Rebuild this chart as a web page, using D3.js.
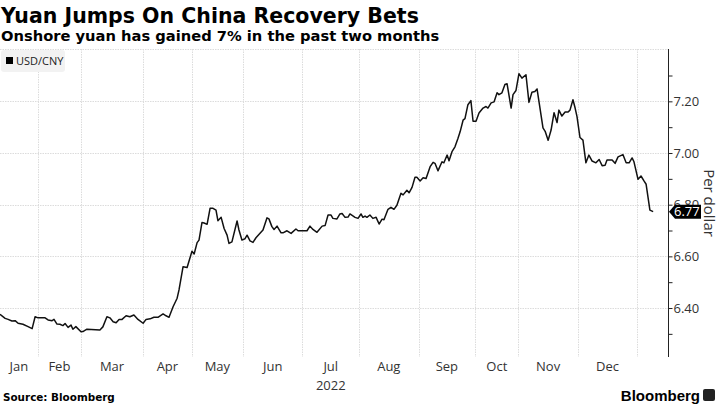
<!DOCTYPE html>
<html><head><meta charset="utf-8">
<script src="https://cdn.jsdelivr.net/npm/d3@7"></script>
<style>
html,body{margin:0;padding:0;background:#fff;}
svg{display:block;}
</style></head>
<body>
<svg id="chart" width="720" height="405"></svg>
<script>
// Trading-day index (x) and USD/CNY close (y)
const tradingDay = [0,1.9,3,4.4,5.6,6.7,8.5,10.4,11.9,13,14.1,16.7,17.8,19.3,20,21.1,22.2,23.3,24.1,25.2,26.3,27,28.1,30,30.7,32.2,37,38.1,39.6,40.7,41.9,43,44.1,45.2,46.7,48.1,49.6,51.1,53,54.1,55.6,57,58.5,60.4,61.5,62.6,64.1,65.6,66.3,67.8,69.3,71.1,71.9,73,73.7,74.8,75.6,76.7,77.8,78.9,80,80.7,81.9,83,84.1,84.8,85.9,87.8,88.5,89.6,90.7,91.5,92.6,93.7,94.8,96.3,97.4,98.9,99.6,100.7,101.5,102.6,104.1,104.8,106.3,107.8,109.6,110.4,113.7,114.8,115.9,117.4,119.3,120.4,121.5,122.6,123.3,124.8,125.9,126.7,127.8,128.9,129.6,131.5,132.6,133.7,134.4,135.2,135.9,137,138.1,139.3,140.4,141.5,142.2,143.7,144.8,145.9,147,148.5,149.3,150.7,151.5,152.6,153.7,154.4,155.6,156.7,157.8,159.3,160.4,161.1,162.2,163.7,164.4,165.6,166.3,167.4,168.5,169.6,170.4,171.5,172.2,173.3,174.4,175.2,176.3,177.4,178.9,180,180.7,181.9,183,184.1,184.8,185.9,187,187.8,189.3,190,191.1,192.2,193.3,194.8,195.9,197,198.1,198.9,201.1,201.9,203,204.1,205.2,206.3,207,208.1,209.3,210.4,211.1,212.2,213,213.7,214.8,215.9,217,218.1,219.3,220.7,221.9,223,224.1,224.8,226.7,227.8,228.9,230.7,231.9,233,234.1,234.8,236.3,237.4,238.5,239.3,240.7,241.9];
const usdCny = [6.376,6.360,6.356,6.350,6.351,6.341,6.337,6.328,6.320,6.366,6.362,6.362,6.354,6.351,6.356,6.338,6.337,6.332,6.340,6.325,6.334,6.318,6.328,6.308,6.309,6.318,6.315,6.327,6.366,6.362,6.347,6.343,6.356,6.356,6.370,6.366,6.373,6.356,6.341,6.356,6.358,6.364,6.364,6.377,6.370,6.364,6.405,6.438,6.470,6.560,6.557,6.620,6.609,6.653,6.663,6.731,6.729,6.724,6.786,6.786,6.779,6.738,6.751,6.708,6.682,6.650,6.656,6.737,6.702,6.663,6.668,6.682,6.660,6.654,6.672,6.689,6.702,6.749,6.745,6.715,6.704,6.717,6.691,6.691,6.699,6.689,6.706,6.699,6.699,6.717,6.704,6.693,6.717,6.719,6.760,6.760,6.747,6.745,6.764,6.766,6.751,6.752,6.764,6.751,6.747,6.764,6.751,6.756,6.751,6.760,6.747,6.751,6.725,6.744,6.742,6.782,6.790,6.782,6.798,6.844,6.838,6.856,6.846,6.867,6.906,6.906,6.892,6.904,6.901,6.947,6.964,6.960,6.931,6.966,6.962,6.992,6.970,7.005,7.024,7.056,7.082,7.127,7.133,7.187,7.203,7.123,7.123,7.155,7.174,7.180,7.174,7.194,7.198,7.233,7.226,7.233,7.265,7.268,7.174,7.226,7.242,7.307,7.290,7.303,7.196,7.235,7.238,7.248,7.097,7.084,7.049,7.089,7.156,7.118,7.166,7.143,7.159,7.159,7.166,7.206,7.174,7.141,7.060,7.050,6.962,6.992,6.969,6.962,6.975,6.951,6.953,6.973,6.973,6.960,6.985,6.994,6.962,6.962,6.981,6.966,6.898,6.911,6.892,6.879,6.779,6.773];
const monthStarts = [0,14,30,53,71,90,112,133,155,176,192,214,236];
const monthLabels = ["Jan","Feb","Mar","Apr","May","Jun","Jul","Aug","Sep","Oct","Nov","Dec"];
const yMajorTicks = [6.40,6.60,6.80,7.00,7.20];
const yMinorTicks = [6.30,6.50,6.70,6.90,7.10,7.30];
const lastValueLabel = "6.77";

const svg = d3.select("#chart");
const plotLeft = 0, plotRight = 668, plotTop = 49, plotBottom = 357;

const x = d3.scaleLinear().domain([0, 247.4]).range([plotLeft, plotRight]);
const y = d3.scaleLinear().domain([6.2104, 7.4026]).range([plotBottom, plotTop]);

const gridColor = "#dcdcdc";
// horizontal grid
svg.append("g").selectAll("line").data([7.4026].concat(yMajorTicks)).join("line")
  .attr("x1", plotLeft).attr("x2", plotRight)
  .attr("y1", d => Math.round(y(d)) + 0.5).attr("y2", d => Math.round(y(d)) + 0.5)
  .attr("stroke", gridColor).attr("stroke-width", 1).attr("stroke-dasharray", "1.5,1");
// vertical grid
svg.append("g").selectAll("line").data(monthStarts.slice(1)).join("line")
  .attr("x1", d => Math.round(x(d)) + 0.5).attr("x2", d => Math.round(x(d)) + 0.5)
  .attr("y1", plotTop).attr("y2", plotBottom)
  .attr("stroke", gridColor).attr("stroke-width", 1).attr("stroke-dasharray", "1.5,1");

// month labels (centered between boundaries)
const labelFont = "'Open Sans', 'DejaVu Sans', sans-serif";
svg.append("g").selectAll("text").data(monthLabels).join("text")
  .attr("x", (d,i) => (x(monthStarts[i]) + x(monthStarts[i+1])) / 2)
  .attr("y", 371)
  .attr("text-anchor", "middle")
  .attr("font-family", labelFont).attr("font-size", 13).attr("fill", "#333")
  .text(d => d);
svg.append("text").attr("x", (x(monthStarts[6]) + x(monthStarts[7])) / 2).attr("y", 390)
  .attr("text-anchor", "middle").attr("font-family", labelFont).attr("font-size", 13).attr("fill", "#333")
  .text("2022");

// right axis
const yAxis = d3.axisRight(y).tickValues(yMajorTicks).tickFormat(d3.format(".2f")).tickSize(4).tickPadding(1);
const gAxis = svg.append("g").attr("transform", `translate(${plotRight + 0.5},0)`).call(yAxis);
gAxis.select(".domain").attr("d", `M0,${plotTop}V${plotBottom}`).attr("stroke", "#222");
gAxis.selectAll(".tick line").attr("stroke", "#222");
gAxis.selectAll(".tick text").attr("font-family", labelFont).attr("font-size", 13).attr("fill", "#333");
const yMinor = d3.axisRight(y).tickValues(yMinorTicks).tickFormat("").tickSize(4);
const gMinor = svg.append("g").attr("transform", `translate(${plotRight + 0.5},0)`).call(yMinor);
gMinor.select(".domain").remove();
gMinor.selectAll(".tick line").attr("stroke", "#222");

// line
const data = tradingDay.map((d,i) => ({d, v: usdCny[i]}));
svg.append("path").datum(data)
  .attr("fill", "none").attr("stroke", "#111").attr("stroke-width", 1.5).attr("stroke-linejoin", "round")
  .attr("d", d3.line().x(p => x(p.d)).y(p => y(p.v)));

// last value pointer
const lastY = y(usdCny[usdCny.length - 1]);
const px0 = plotRight + 1;
svg.append("path")
  .attr("d", `M${px0},${lastY} L${px0+6},${lastY-7} L${px0+32},${lastY-7} L${px0+32},${lastY+7} L${px0+6},${lastY+7} Z`)
  .attr("fill", "#000");
svg.append("text").attr("x", px0 + 5).attr("y", lastY + 4.5)
  .attr("font-family", labelFont).attr("font-size", 13).attr("fill", "#fff").text(lastValueLabel);

// Per dollar
svg.append("text").attr("transform", `translate(704,${(plotTop+plotBottom)/2}) rotate(90)`)
  .attr("text-anchor", "middle").attr("font-family", labelFont).attr("font-size", 15).attr("fill", "#333")
  .text("Per dollar");

// legend
svg.append("rect").attr("x", 1).attr("y", 50).attr("width", 64).attr("height", 22).attr("rx", 3)
  .attr("fill", "#f2f2f2");
svg.append("rect").attr("x", 6).attr("y", 57).attr("width", 7).attr("height", 7).attr("fill", "#000");
svg.append("text").attr("x", 16).attr("y", 65).attr("font-family", labelFont).attr("font-size", 11)
  .attr("fill", "#222").text("USD/CNY");

// titles
svg.append("text").attr("x", 1).attr("y", 23).attr("font-family", "'DejaVu Sans', Verdana, sans-serif").attr("font-weight", "bold")
  .attr("font-size", 20.5).attr("fill", "#000").text("Yuan Jumps On China Recovery Bets");
svg.append("text").attr("x", 1).attr("y", 41).attr("font-family", "'DejaVu Sans', Verdana, sans-serif").attr("font-weight", "bold")
  .attr("font-size", 14.7).attr("fill", "#000").text("Onshore yuan has gained 7% in the past two months");

// footer
svg.append("text").attr("x", 3).attr("y", 401).attr("font-family", "'DejaVu Sans', Verdana, sans-serif").attr("font-weight", "bold")
  .attr("font-size", 10.4).attr("fill", "#000").text("Source: Bloomberg");
svg.append("text").attr("x", 700).attr("y", 401).attr("text-anchor", "end").attr("font-family", "'Liberation Sans', Arial, sans-serif")
  .attr("font-weight", "bold").attr("font-size", 15).attr("fill", "#000").text("Bloomberg");
svg.append("rect").attr("x", 703).attr("y", 389).attr("width", 12).attr("height", 12).attr("rx", 2).attr("fill", "#222");
</script>
</body></html>
